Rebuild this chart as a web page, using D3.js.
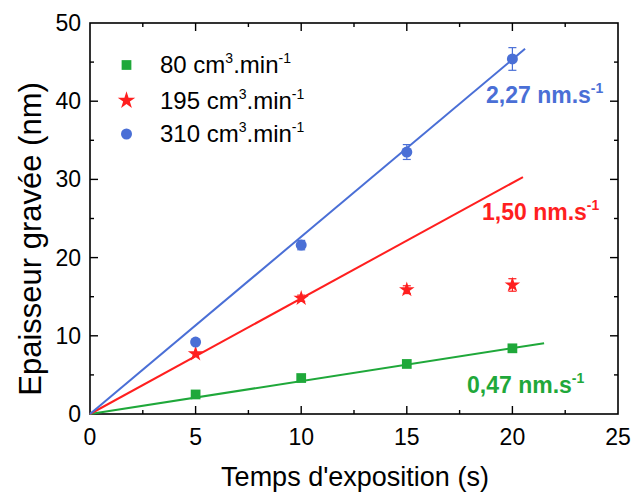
<!DOCTYPE html>
<html><head><meta charset="utf-8">
<script src="https://cdn.jsdelivr.net/npm/d3@7"></script>
<style>body{margin:0;background:#fff}svg{display:block;font-family:"Liberation Sans",Arial,sans-serif}</style>
</head><body><svg id="c" width="632" height="493"></svg>
<script>
const times = [5, 10, 15, 20];
const green = [2.5, 4.6, 6.4, 8.4];
const greenErr = [0, 0, 0, 0];
const red = [7.7, 14.8, 15.9, 16.5];
const redErr = [0, 0.4, 0.5, 0.8];
const blue = [9.2, 21.6, 33.5, 45.4];
const blueErr = [0, 0.6, 0.95, 1.45];
const fitGreen = [[0, 0], [21.5, 9.05]];
const fitRed = [[0, 0], [20.5, 30.3]];
const fitBlue = [[0, 0], [20.6, 46.7]];
const xTicks = [0, 5, 10, 15, 20, 25];
const yTicks = [0, 10, 20, 30, 40, 50];
const legendLabels = ["80", "195", "310"];
const rates = ["0,47", "1,50", "2,27"];
const cGreen = "#1fa83a", cRed = "#ff1f1f", cBlue = "#4a6fd6";

const svg = d3.select("#c");
const x = d3.scaleLinear().domain([0, 25]).range([90, 618]);
const y = d3.scaleLinear().domain([0, 50]).range([414, 23]);

// frame
svg.append("rect").attr("x", 90).attr("y", 23).attr("width", 528).attr("height", 391)
  .attr("fill", "none").attr("stroke", "#000").attr("stroke-width", 1.6);

// ticks (inward)
const minorX = d3.range(2.5, 25, 5), minorY = d3.range(5, 50, 10);
const tk = svg.append("g").attr("stroke", "#000").attr("stroke-width", 1.4);
xTicks.slice(1, -1).forEach(v => {
  tk.append("line").attr("x1", x(v)).attr("x2", x(v)).attr("y1", 414).attr("y2", 406);
  tk.append("line").attr("x1", x(v)).attr("x2", x(v)).attr("y1", 23).attr("y2", 31);
});
minorX.forEach(v => {
  tk.append("line").attr("x1", x(v)).attr("x2", x(v)).attr("y1", 414).attr("y2", 410);
  tk.append("line").attr("x1", x(v)).attr("x2", x(v)).attr("y1", 23).attr("y2", 27);
});
yTicks.slice(1, -1).forEach(v => {
  tk.append("line").attr("y1", y(v)).attr("y2", y(v)).attr("x1", 90).attr("x2", 98);
  tk.append("line").attr("y1", y(v)).attr("y2", y(v)).attr("x1", 618).attr("x2", 610);
});
minorY.forEach(v => {
  tk.append("line").attr("y1", y(v)).attr("y2", y(v)).attr("x1", 90).attr("x2", 94);
  tk.append("line").attr("y1", y(v)).attr("y2", y(v)).attr("x1", 618).attr("x2", 614);
});

// tick labels
svg.append("g").selectAll("text").data(xTicks).join("text")
  .attr("x", d => x(d)).attr("y", 445).attr("text-anchor", "middle")
  .attr("font-size", 23).text(d => d);
svg.append("g").selectAll("text").data(yTicks).join("text")
  .attr("x", 81).attr("y", d => y(d) + 8).attr("text-anchor", "end")
  .attr("font-size", 23).text(d => d);

// axis titles
svg.append("text").attr("x", 355).attr("y", 486).attr("text-anchor", "middle")
  .attr("font-size", 27).text("Temps d'exposition (s)");
svg.append("text").attr("transform", "translate(41,239) rotate(-90)").attr("text-anchor", "middle")
  .attr("font-size", 31).text("Epaisseur gravée (nm)");

// fit lines
const line = d3.line().x(d => x(d[0])).y(d => y(d[1]));
[[fitGreen, cGreen], [fitRed, cRed], [fitBlue, cBlue]].forEach(([f, c]) => {
  svg.append("path").attr("d", line(f)).attr("stroke", c).attr("stroke-width", 2).attr("fill", "none");
});

// error bars
function errBars(vals, errs, c) {
  const g = svg.append("g").attr("stroke", c).attr("stroke-width", 1.2);
  times.forEach((t, i) => {
    if (!errs[i]) return;
    const cx = x(t), y1 = y(vals[i] + errs[i]), y2 = y(vals[i] - errs[i]);
    g.append("line").attr("x1", cx).attr("x2", cx).attr("y1", y1).attr("y2", y2);
    g.append("line").attr("x1", cx - 4).attr("x2", cx + 4).attr("y1", y1).attr("y2", y1);
    g.append("line").attr("x1", cx - 4).attr("x2", cx + 4).attr("y1", y2).attr("y2", y2);
  });
}
errBars(red, redErr, cRed);
errBars(blue, blueErr, cBlue);

const sq = d3.symbol().type(d3.symbolSquare).size(95);
const star = d3.symbol().type(d3.symbolStar).size(75);
const starL = d3.symbol().type(d3.symbolStar).size(95);
const circ = d3.symbol().type(d3.symbolCircle).size(95);

svg.append("g").selectAll("path").data(times).join("path")
  .attr("transform", (d, i) => `translate(${x(d)},${y(green[i])})`).attr("d", sq).attr("fill", cGreen);
svg.append("g").selectAll("path").data(times).join("path")
  .attr("transform", (d, i) => `translate(${x(d)},${y(red[i])})`).attr("d", star).attr("fill", cRed);
svg.append("g").selectAll("path").data(times).join("path")
  .attr("transform", (d, i) => `translate(${x(d)},${y(blue[i])})`).attr("d", circ).attr("fill", cBlue);

// legend
const legSyms = [[sq, cGreen], [starL, cRed], [circ, cBlue]];
const legY = [65, 100.5, 134];
legendLabels.forEach((lab, i) => {
  const ly = legY[i];
  svg.append("path").attr("transform", `translate(126.5,${ly})`).attr("d", legSyms[i][0]).attr("fill", legSyms[i][1]);
  const t = svg.append("text").attr("x", 160).attr("y", ly + 8).attr("font-size", 24);
  t.append("tspan").text(lab + " cm");
  t.append("tspan").attr("font-size", 14).attr("dy", -10).text("3");
  t.append("tspan").attr("dy", 10).text(".min");
  t.append("tspan").attr("font-size", 14).attr("dy", -10).text("-1");
});

// rate annotations
const ann = [[rates[0], cGreen, 467, 393], [rates[1], cRed, 482, 220], [rates[2], cBlue, 486, 103]];
ann.forEach(([r, c, ax, ay]) => {
  const t = svg.append("text").attr("x", ax).attr("y", ay).attr("font-size", 23)
    .attr("font-weight", "bold").attr("fill", c);
  t.append("tspan").text(r + " nm.s");
  t.append("tspan").attr("font-size", 14).attr("dy", -10).text("-1");
});
</script></body></html>
